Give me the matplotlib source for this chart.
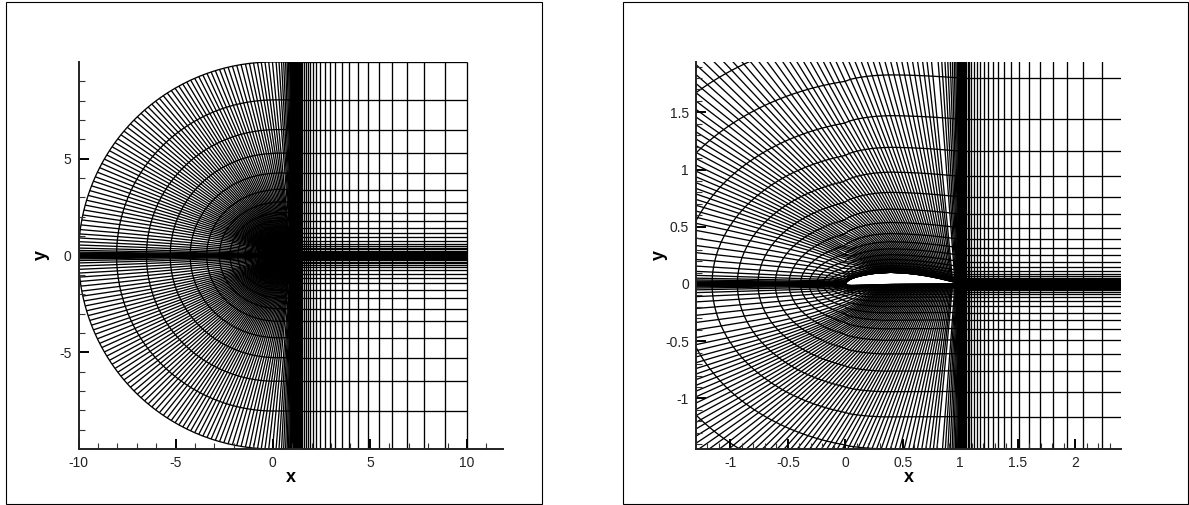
import numpy as np
import matplotlib
matplotlib.use("Agg")
import matplotlib.pyplot as plt
from matplotlib.patches import Rectangle

plt.rcParams['font.family'] = ['Liberation Sans', 'DejaVu Sans']

W, H = 1189, 505

# distance of the C lines from the wall, read at x=1 (same on both sides)
levels = [10, 8.04, 6.5, 5.28, 4.25, 3.4, 2.75, 2.2, 1.8, 1.44, 1.16, 0.94, 0.76, 0.61,
          0.49, 0.39, 0.315, 0.25, 0.195, 0.15, 0.115, 0.09, 0.07, 0.055, 0.043, 0.033,
          0.025, 0.019, 0.014, 0.01, 0.007, 0.004, 0.002, 0.001, 0.0]
# where each C line reaches its full height
crest_x = [0, 0.08, 0.14, 0.2, 0.26, 0.3, 0.34, 0.37, 0.39, 0.39, 0.39, 0.39, 0.39, 0.39,
           0.39, 0.39, 0.39, 0.39, 0.39, 0.39, 0.39, 0.39, 0.39, 0.39, 0.39, 0.39,
           0.39, 0.39, 0.39, 0.39, 0.39, 0.39, 0.39, 0.39, 0.39]
# how far each C line still follows the wall (spokes are curved, not straight)
bend = [0, 0.034, 0.067, 0.098, 0.13, 0.163, 0.193, 0.225, 0.254, 0.286, 0.317, 0.347, 0.377,
        0.408, 0.44, 0.471, 0.5, 0.533, 0.566, 0.6, 0.633, 0.66, 0.69, 0.716, 0.74, 0.77,
        0.79, 0.81, 0.83, 0.86, 0.88, 0.91, 0.93, 0.95, 1.0]

# vertical lines of the wake block
wake_x = [10, 8.85, 7.8, 6.92, 6.13, 5.48, 4.88, 4.4, 3.94, 3.58, 3.22, 2.93, 2.67, 2.43,
          2.235, 2.07, 1.93, 1.806, 1.696, 1.6, 1.51, 1.44, 1.38, 1.33, 1.287, 1.245,
          1.206, 1.174, 1.145, 1.12, 1.097, 1.08, 1.065, 1.052, 1.042, 1.034, 1.027,
          1.021, 1.016, 1.012, 1.008, 1.005, 1.003, 1.001]

# spokes that end on the outer circle: angle up from (-10, 0), and chord station on the wall
arc_deg = [0, 0.03, 0.07, 0.12, 0.18, 0.26, 0.36, 0.5, 0.7, 1.0, 1.5, 2.2, 3.1, 4.1, 5.2,
           6.4, 7.7, 9.1, 10.6, 12.1, 13.6, 15.1, 16.6, 18.1, 19.6,
           21.1, 22.6, 24.0, 25.5, 27.0, 28.4, 29.9, 31.3, 32.8, 34.2, 35.7, 37.1, 38.6,
           40.0, 41.5, 42.9, 44.4, 45.8, 47.3, 48.7, 50.1, 51.5, 52.9, 54.3, 55.7, 57.1,
           58.5, 59.8, 61.1, 62.4, 63.7, 65.0, 66.3, 67.6, 68.9, 70.2, 71.5, 72.8, 74.1,
           75.4, 76.7, 78.0, 79.3, 80.6, 81.9, 83.1, 84.3, 85.5, 86.6, 87.7, 88.8, 89.9]
arc_station = [0, 0.0005, 0.001, 0.002, 0.004, 0.007, 0.011, 0.016, 0.023, 0.033, 0.048,
               0.07, 0.1, 0.14, 0.18, 0.22, 0.26, 0.3, 0.33, 0.35, 0.37, 0.385, 0.4,
               0.41, 0.42,
               0.43, 0.44, 0.45, 0.46, 0.47, 0.48, 0.49, 0.5, 0.51, 0.52, 0.53, 0.54, 0.55,
               0.56, 0.57, 0.58, 0.59, 0.6, 0.61, 0.62, 0.63, 0.64, 0.65, 0.66, 0.67, 0.68,
               0.69, 0.7, 0.71, 0.72, 0.73, 0.74, 0.75, 0.76, 0.77, 0.78, 0.79, 0.8, 0.81,
               0.82, 0.83, 0.84, 0.85, 0.86, 0.87, 0.88, 0.89, 0.9, 0.91, 0.92, 0.925, 0.93]

# spokes that end on the flat top/bottom edge
flat_x = [0.17, 0.32, 0.45, 0.56, 0.66, 0.74, 0.81, 0.87, 0.92, 0.945, 0.96, 0.97, 0.978,
          0.984, 0.989, 0.993, 0.996, 0.998, 1.0]
flat_station = [0.955, 0.96, 0.965, 0.97, 0.974, 0.978, 0.982, 0.985, 0.988, 0.99, 0.992,
                0.994, 0.995, 0.996, 0.997, 0.998, 0.999, 0.9995, 1.0]

# airfoil
foil_x = [0, 0.005, 0.015, 0.03, 0.06, 0.1, 0.16, 0.25, 0.39, 0.5, 0.6, 0.7, 0.8, 0.9, 1.0]
foil_up = [0, 0.012, 0.024, 0.036, 0.052, 0.066, 0.082, 0.098, 0.108, 0.103, 0.092, 0.076,
           0.055, 0.03, 0.002]
foil_lo = [0, -0.007, -0.011, -0.013, -0.014, -0.013, -0.011, -0.008, -0.004, -0.002, -0.001,
           0, 0.001, 0.001, 0.002]

# tick labels
left_xticks = [-10, -5, 0, 5, 10]
left_xlabels = ['-10', '-5', '0', '5', '10']
left_yticks = [-5, 0, 5]
left_ylabels = ['-5', '0', '5']
right_xticks = [-1, -0.5, 0, 0.5, 1, 1.5, 2]
right_xlabels = ['-1', '-0.5', '0', '0.5', '1', '1.5', '2']
right_yticks = [-1, -0.5, 0, 0.5, 1, 1.5]
right_ylabels = ['-1', '-0.5', '0', '0.5', '1', '1.5']


def level_curve(d, xc):
    # quarter ellipse from (-d, 0) up to the crest, then flat to x=1
    phi = np.linspace(0, np.pi / 2, 300)
    x = np.r_[xc - (d + xc) * np.cos(phi), 1.0]
    h = np.r_[d * np.sin(phi), d]
    t = np.r_[0, np.cumsum(np.hypot(np.diff(x), np.diff(h)))]
    return t / t[-1], x, h


def build_mesh():
    outer = 10 * np.pi / 2 + 1
    tau_o = np.r_[10 * np.radians(arc_deg), 10 * np.pi / 2 + np.array(flat_x)] / outer
    tau_w = np.r_[arc_station, flat_station]

    n = len(tau_o)
    ux = np.zeros((n, len(levels)))
    uy = np.zeros((n, len(levels)))
    ly = np.zeros((n, len(levels)))
    for j, d in enumerate(levels):
        t, x, h = level_curve(d, crest_x[j])
        tau = tau_o + bend[j] * (tau_w - tau_o)
        ux[:, j] = np.interp(tau, t, x)
        hh = np.interp(tau, t, h)
        uy[:, j] = hh + bend[j] * np.interp(ux[:, j], foil_x, foil_up)
        ly[:, j] = -hh + bend[j] * np.interp(ux[:, j], foil_x, foil_lo)

    mx = np.r_[ux[::-1], ux[1:]]
    my = np.r_[ly[::-1], uy[1:]]
    return mx, my


def draw_mesh(ax, mx, my, lw=0.95):
    kw = dict(color='k', lw=lw, solid_capstyle='butt', zorder=1)
    for i in range(mx.shape[0]):
        ax.plot(mx[i], my[i], **kw)
    for j in range(mx.shape[1]):
        ax.plot(mx[:, j], my[:, j], **kw)
    for x in wake_x:
        ax.plot([x, x], [-10, 10], **kw)
    for d in levels:
        ax.plot([1, 10], [d, d], **kw)
        ax.plot([1, 10], [-d, -d], **kw)


def panel(fig, box, xlim, ylim, xticks, xlabels, yticks, ylabels, xminor, yminor, pads):
    x0, x1, top, bot = box
    ax = fig.add_axes([x0 / W, 1 - bot / H, (x1 - x0) / W, (bot - top) / H])
    ax.set_xlim(xlim)
    ax.set_ylim(ylim)
    ax.spines['top'].set_visible(False)
    ax.spines['right'].set_visible(False)
    ax.spines['left'].set_linewidth(1.4)
    ax.spines['bottom'].set_linewidth(1.4)
    ax.spines['left'].set_color('#222222')
    ax.spines['bottom'].set_color('#222222')
    ax.set_xticks(xticks, xlabels)
    ax.set_yticks(yticks, ylabels)
    ax.set_xticks(xminor, minor=True)
    ax.set_yticks(yminor, minor=True)
    ax.tick_params(which='major', direction='in', length=7.2, width=1.4, color='k',
                   labelsize=10, labelcolor='#222222', pad=5)
    ax.tick_params(which='minor', direction='in', length=4.3, width=0.8, color='#333333')
    ax.set_xlabel('x', fontweight='bold', fontsize=13, labelpad=pads[0])
    ax.set_ylabel('y', fontweight='bold', fontsize=13, labelpad=pads[1])
    return ax


fig = plt.figure(figsize=(W / 100, H / 100), dpi=100)

# outer frames
fig.add_artist(Rectangle((5.5 / W, 1 - 504 / H), 536 / W, 502 / H, fill=False, ec='k', lw=0.8,
                         transform=fig.transFigure))
fig.add_artist(Rectangle((622.5 / W, 1 - 504 / H), 565 / W, 502 / H, fill=False, ec='k', lw=0.8,
                         transform=fig.transFigure))

mesh_x, mesh_y = build_mesh()

ax1 = panel(fig, (78.5, 503, 62, 449), (-10, 11.85), (-10, 10),
            left_xticks, left_xlabels, left_yticks, left_ylabels,
            [v for v in range(-10, 12) if v % 5], [v for v in range(-9, 10) if v % 5],
            (-1, 6.5))
draw_mesh(ax1, mesh_x, mesh_y)

ax2 = panel(fig, (696, 1121, 62, 449), (-1.3, 2.4), (-1.442, 1.94),
            right_xticks, right_xlabels, right_yticks, right_ylabels,
            [v / 10 for v in range(-12, 24) if v % 5], [v / 10 for v in range(-14, 20) if v % 5],
            (-1, -2))
draw_mesh(ax2, mesh_x, mesh_y)

fig.savefig('out.png', dpi=100)
